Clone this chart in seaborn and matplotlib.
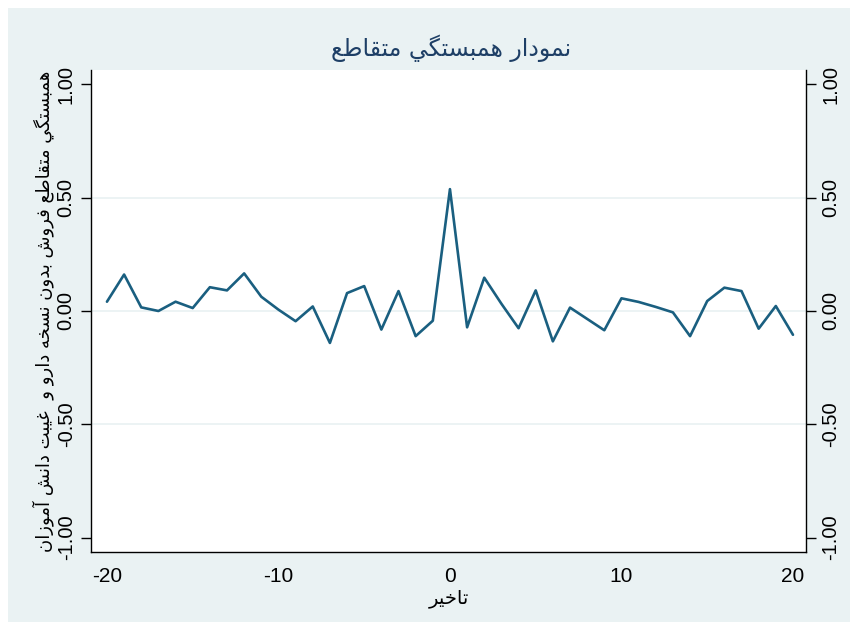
#Cross-correlogram (Stata style) with seaborn
import matplotlib
matplotlib.use("Agg")
import matplotlib.pyplot as plt
import matplotlib.patches as mpatches
import seaborn as sns
import pandas as pd

lags = list(range(-20, 21))
ccf = [0.041, 0.161, 0.016, 0.000, 0.041, 0.013, 0.105, 0.091, 0.166, 0.063,
       0.006, -0.045, 0.020, -0.141, 0.079, 0.110, -0.082, 0.088, -0.111, -0.043,
       0.538, -0.072, 0.147, 0.032, -0.076, 0.091, -0.134, 0.015, -0.035, -0.085,
       0.056, 0.040, 0.018, -0.006, -0.111, 0.044, 0.103, 0.088, -0.078, 0.022,
       -0.105]
y_ticks = [-1.0, -0.5, 0.0, 0.5, 1.0]
y_ticklabels = ["-1.00", "-0.50", "0.00", "0.50", "1.00"]
x_ticks = [-20, -10, 0, 10, 20]

title_txt = "نمودار همبستگي متقاطع"
ylabel_txt = "همبستگي متقاطع فروش بدون نسخه دارو و  غيبت دانش آموزان"
xlabel_txt = "تاخير"

# matplotlib has no arabic shaping, so pick presentation forms by hand
# (isolated, final, initial, medial); right-joining letters have only two
FORMS = {
    "ا": ("\uFE8D", "\uFE8E"), "آ": ("\uFE81", "\uFE82"),
    "د": ("\uFEA9", "\uFEAA"), "ر": ("\uFEAD", "\uFEAE"),
    "ز": ("\uFEAF", "\uFEB0"), "و": ("\uFEED", "\uFEEE"),
    "ب": ("\uFE8F", "\uFE90", "\uFE91", "\uFE92"),
    "ت": ("\uFE95", "\uFE96", "\uFE97", "\uFE98"),
    "خ": ("\uFEA5", "\uFEA6", "\uFEA7", "\uFEA8"),
    "س": ("\uFEB1", "\uFEB2", "\uFEB3", "\uFEB4"),
    "ش": ("\uFEB5", "\uFEB6", "\uFEB7", "\uFEB8"),
    "ط": ("\uFEC1", "\uFEC2", "\uFEC3", "\uFEC4"),
    "ع": ("\uFEC9", "\uFECA", "\uFECB", "\uFECC"),
    "غ": ("\uFECD", "\uFECE", "\uFECF", "\uFED0"),
    "ف": ("\uFED1", "\uFED2", "\uFED3", "\uFED4"),
    "ق": ("\uFED5", "\uFED6", "\uFED7", "\uFED8"),
    "م": ("\uFEE1", "\uFEE2", "\uFEE3", "\uFEE4"),
    "ن": ("\uFEE5", "\uFEE6", "\uFEE7", "\uFEE8"),
    "ه": ("\uFEE9", "\uFEEA", "\uFEEB", "\uFEEC"),
    "ي": ("\uFEF1", "\uFEF2", "\uFEF3", "\uFEF4"),
    "گ": ("\uFB92", "\uFB93", "\uFB94", "\uFB95"),
}


def shape(s):
    out = []
    for i, c in enumerate(s):
        if c not in FORMS:
            out.append(c)
            continue
        prev = s[i - 1] if i > 0 else " "
        nxt = s[i + 1] if i < len(s) - 1 else " "
        jp = prev in FORMS and len(FORMS[prev]) == 4
        jn = len(FORMS[c]) == 4 and nxt in FORMS
        f = FORMS[c]
        if jp and jn:
            out.append(f[3])
        elif jp:
            out.append(f[1])
        elif jn:
            out.append(f[2])
        else:
            out.append(f[0])
    return "".join(out)[::-1]


sns.set_style("white")
plt.rcParams["font.family"] = ["Liberation Sans", "DejaVu Sans"]

df = pd.DataFrame({"lag": lags, "ccf": ccf})

fig = plt.figure(figsize=(8.58, 6.30), dpi=100)
fig.patch.set_facecolor("white")
fig.patches.append(mpatches.Rectangle((8 / 858, 8 / 630), 842 / 858, 614 / 630,
                                      transform=fig.transFigure, facecolor="#EAF2F3",
                                      edgecolor="none", zorder=-10))
ax = fig.add_axes([91 / 858, 78 / 630, 715 / 858, 482 / 630])
ax.set_facecolor("white")

for g in [-0.5, 0.0, 0.5]:
    ax.axhline(g, color="#EAF2F3", lw=1.3, zorder=1)

sns.lineplot(data=df, x="lag", y="ccf", color="#1A5F80", lw=1.9, ax=ax, zorder=3)

ax.set_xlim(-20.93, 20.76)
ax.set_ylim(-1.064, 1.064)
ax.set_xticks(x_ticks)
ax.set_xticklabels([str(t) for t in x_ticks], fontsize=15)
ax.set_yticks(y_ticks)
ax.set_yticklabels(y_ticklabels, rotation=90, va="center", fontsize=14.5)
ax.tick_params(axis="both", direction="out", length=7, width=1, color="black",
               labelcolor="black", pad=4)
ax.tick_params(axis="y", right=True, labelright=True, left=True)
for lab in ax.get_yticklabels(which="both"):
    lab.set_rotation(90)
    lab.set_va("center")

for side in ["left", "right", "bottom"]:
    ax.spines[side].set_visible(True)
    ax.spines[side].set_color("black")
    ax.spines[side].set_linewidth(1)
ax.spines["top"].set_visible(False)

ax.set_xlabel(shape(xlabel_txt), fontsize=14, color="black", labelpad=2,
              family=["DejaVu Sans"])
ax.set_ylabel(shape(ylabel_txt), fontsize=13, color="black", labelpad=2,
              family=["DejaVu Sans"])
fig.text(451 / 858, 1 - 48 / 630, shape(title_txt), ha="center", va="center",
         fontsize=17, color="#1E3F66", family=["DejaVu Sans"])

fig.savefig("out.png", dpi=100, facecolor=fig.get_facecolor())
